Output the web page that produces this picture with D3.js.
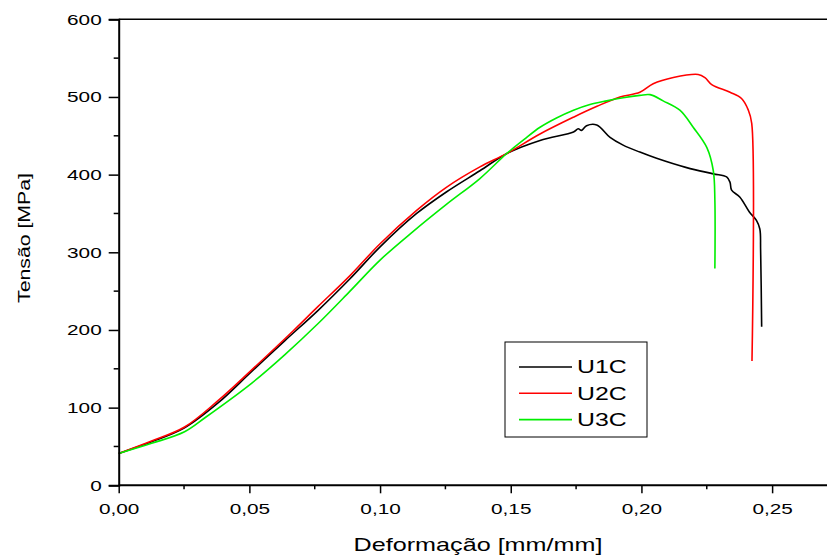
<!DOCTYPE html>
<html>
<head>
<meta charset="utf-8">
<script src="https://cdn.jsdelivr.net/npm/d3@7"></script>
<style>
  body { margin: 0; background: #fff; }
  svg { display: block; font-family: "Liberation Sans", Arial, sans-serif; }
</style>
</head>
<body>
<div id="chart"></div>
<script>
// data
var seriesNames = ["U1C", "U2C", "U3C"];
var seriesColors = ["#000000", "#ff0000", "#00ee00"];

var u1cStrain = [0, 0.0126, 0.0252, 0.038, 0.0507, 0.0635, 0.0762, 0.0885, 0.1, 0.114, 0.1255, 0.1382, 0.1484, 0.1612, 0.174, 0.1758, 0.1771, 0.179, 0.1829, 0.188, 0.193, 0.1994, 0.2058, 0.2173, 0.2275, 0.2326, 0.2339, 0.2345, 0.2377, 0.2413, 0.244, 0.2453, 0.2456, 0.246];
var u1cStress = [41, 56, 74, 106, 146, 186, 225, 266, 307, 350, 378, 405, 427, 444, 455, 459, 457, 463, 464, 448, 438, 429, 421, 409, 401, 397, 390, 380, 371, 352, 341, 330, 303, 204];

var u2cStrain = [0, 0.0126, 0.0252, 0.038, 0.0507, 0.0668, 0.0762, 0.0885, 0.1, 0.114, 0.1255, 0.1382, 0.1484, 0.161, 0.174, 0.183, 0.1918, 0.1994, 0.2045, 0.2122, 0.2217, 0.2243, 0.2269, 0.2339, 0.2383, 0.2409, 0.2422, 0.2423];
var u2cStress = [41, 57, 75, 109, 148, 199, 230, 270, 311, 354, 384, 410, 427, 452, 474, 488, 500, 506, 517, 525, 529, 525, 516, 506, 498, 483, 466, 160];

var u3cStrain = [0, 0.0126, 0.0252, 0.033, 0.0507, 0.0635, 0.0762, 0.0885, 0.1, 0.1127, 0.1255, 0.1382, 0.1484, 0.155, 0.1612, 0.1675, 0.174, 0.18, 0.1867, 0.193, 0.1994, 0.2033, 0.2083, 0.2147, 0.2198, 0.225, 0.2275, 0.2281, 0.2281];
var u3cStress = [41, 54, 69, 87, 131, 168, 208, 250, 290, 327, 362, 395, 427, 445, 461, 473, 483, 490, 495, 499, 502, 503, 495, 483, 461, 435, 405, 367, 279];

var xTicks = [0, 0.05, 0.10, 0.15, 0.20, 0.25];
var yTicks = [0, 100, 200, 300, 400, 500, 600];

var W = 827, H = 556;
var margin = {top: 19.3, left: 118.7, bottom: 70.7};
var stretch = 1.34; // glyphs in the picture are wider than normal

var svg = d3.select("#chart").append("svg")
    .attr("width", W)
    .attr("height", H);

var x = d3.scaleLinear().domain([0, 0.271]).range([margin.left, W]);
var y = d3.scaleLinear().domain([0, 600]).range([H - margin.bottom, margin.top]);

var fmt = function(d) { return d3.format(".2f")(d).replace(".", ","); };

// curves
var series = [
  {name: seriesNames[0], xs: u1cStrain, ys: u1cStress, color: seriesColors[0]},
  {name: seriesNames[1], xs: u2cStrain, ys: u2cStress, color: seriesColors[1]},
  {name: seriesNames[2], xs: u3cStrain, ys: u3cStress, color: seriesColors[2]}
];

var line = d3.line()
    .curve(d3.curveCatmullRom.alpha(0.5))
    .x(function(d) { return x(d[0]); })
    .y(function(d) { return y(d[1]); });

svg.selectAll(".curve")
  .data(series)
  .enter().append("path")
    .attr("class", "curve")
    .attr("fill", "none")
    .attr("stroke", function(d) { return d.color; })
    .attr("stroke-width", 1.6)
    .attr("stroke-linejoin", "round")
    .attr("d", function(d) { return line(d3.zip(d.xs, d.ys)); });

// top frame line
svg.append("line")
  .attr("x1", x(0)).attr("x2", W)
  .attr("y1", y(600)).attr("y2", y(600))
  .attr("stroke", "#000").attr("stroke-width", 1.5);

// x axis
var xAxis = svg.append("g")
  .attr("transform", "translate(0," + y(0) + ")");
xAxis.call(d3.axisBottom(x).tickValues(xTicks).tickFormat(fmt).tickSize(8).tickPadding(10));
xAxis.append("g").selectAll("line")
  .data(d3.range(0.025, 0.27, 0.05))
  .enter().append("line")
    .attr("x1", function(d) { return x(d); }).attr("x2", function(d) { return x(d); })
    .attr("y1", 0).attr("y2", 4)
    .attr("stroke", "#000").attr("stroke-width", 1.5);
xAxis.select(".domain").attr("stroke-width", 2).attr("d", "M" + x(0) + ",0H" + W);
xAxis.selectAll(".tick text").attr("transform", "scale(" + stretch + ",1)");

// y axis
var yAxis = svg.append("g")
  .attr("transform", "translate(" + x(0) + ",0)");
yAxis.call(d3.axisLeft(y).tickValues(yTicks).tickSize(10).tickPadding(7));
yAxis.append("g").selectAll("line")
  .data(d3.range(50, 600, 100))
  .enter().append("line")
    .attr("y1", function(d) { return y(d); }).attr("y2", function(d) { return y(d); })
    .attr("x1", 0).attr("x2", -5)
    .attr("stroke", "#000").attr("stroke-width", 1.5);
yAxis.select(".domain").attr("stroke-width", 2);
yAxis.selectAll(".tick text")
  .attr("x", -17 / stretch)
  .attr("transform", "scale(" + stretch + ",1)");

svg.selectAll(".tick line").attr("stroke-width", 1.5);
svg.selectAll(".tick text")
  .attr("font-family", "Liberation Sans, Arial, sans-serif")
  .attr("font-size", 15.5)
  .attr("fill", "#000");

// axis titles
svg.append("text")
  .attr("transform", "translate(478,551) scale(1.4,1)")
  .attr("text-anchor", "middle")
  .attr("font-size", 18)
  .text("Deformação [mm/mm]");

svg.append("text")
  .attr("transform", "translate(30,238) rotate(-90) scale(1.25,1)")
  .attr("text-anchor", "middle")
  .attr("font-size", 17)
  .text("Tensão [MPa]");

// legend
var legend = svg.append("g").attr("transform", "translate(505,342)");
legend.append("rect")
  .attr("width", 142).attr("height", 95)
  .attr("fill", "#fff").attr("stroke", "#000").attr("stroke-width", 1);

var rows = legend.selectAll(".row")
  .data(series)
  .enter().append("g")
    .attr("transform", function(d, i) { return "translate(0," + (25 + i * 26.3) + ")"; });
rows.append("line")
  .attr("x1", 14).attr("x2", 67)
  .attr("stroke", function(d) { return d.color; })
  .attr("stroke-width", 1.6);
rows.append("text")
  .attr("transform", "translate(72,0) scale(1.38,1)")
  .attr("dy", "0.36em")
  .attr("font-size", 18)
  .text(function(d) { return d.name; });
</script>
</body>
</html>
